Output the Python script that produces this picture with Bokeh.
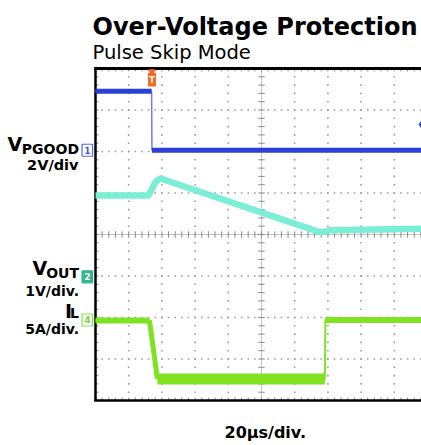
import numpy as np
from bokeh.plotting import figure
from bokeh.models import Range1d
from bokeh.core.properties import value
from bokeh.embed import file_html
from bokeh.resources import INLINE

# ---------------- data (time in µs, 20 µs/div; levels in screen divisions, centre = 0) ----
title_text = "Over-Voltage Protection"
subtitle_text = "Pulse Skip Mode"
x_label = "20µs/div."

pgood_t = [0.0, 33.8, 34.0, 200.0]
pgood_v = [3.45, 3.45, 2.03, 2.03]

vout_t = [0.0, 31.9, 36.5, 39.2, 135.5, 141.0, 200.0]
vout_v = [0.94, 0.94, 1.28, 1.35, 0.05, 0.10, 0.14]

il_t = [0.0, 32.5, 37.3, 138.2, 138.5, 200.0]
il_v = [-2.07, -2.07, -3.48, -3.48, -2.06, -2.06]

ch_names = ["1", "2", "4"]
ch_ground = [2.03, -1.02, -2.06]
trig_time = 34.0
trig_level = 2.65

# ---------------- layout helpers (canvas pixel -> data) ----------------
PX_X = 33.2 / 20.0   # px per µs
PX_Y = 41.5          # px per division
def X(px):
    return (px - 95.0) / PX_X
def Y(py):
    return (400.0 - py) / PX_Y - 4.0

W, H = 421, 445
p = figure(width=W, height=H, output_backend="svg", toolbar_location=None,
           x_range=Range1d(X(0), X(W)), y_range=Range1d(Y(H), Y(0)),
           x_axis_type=None, y_axis_type=None, min_border=0,
           outline_line_color=None, background_fill_color="white")
p.grid.visible = False

FONT = value("DejaVu Sans")

# ---------------- graticule ----------------
minor_x = np.arange(4, 200, 4)
dx, dy = [], []
for gy in [-3, -2, -1, 1, 2, 3]:
    dx += list(minor_x); dy += [gy] * len(minor_x)
minor_y = np.round(np.arange(-3.8, 3.81, 0.2), 3)
for gx in [20, 40, 60, 80, 120, 140, 160, 180]:
    dx += [gx] * len(minor_y); dy += list(minor_y)
p.scatter(dx, dy, marker="square", size=1.6, fill_color="#9c9c9c", line_color=None)

# centre cross
p.segment(x0=[100, 0], y0=[-4, 0], x1=[100, 200], y1=[4, 0], line_color="#c4c4c4", line_width=1)
tx = 3.2 / PX_X
ty = 3.2 / PX_Y
p.segment(x0=minor_x, y0=-ty, x1=minor_x, y1=ty, line_color="#8a8a8a", line_width=1)
p.segment(x0=100 - tx, y0=minor_y, x1=100 + tx, y1=minor_y, line_color="#8a8a8a", line_width=1)
# border ticks
p.segment(x0=0, y0=minor_y, x1=tx * 0.9, y1=minor_y, line_color="#8a8a8a", line_width=1)
p.segment(x0=minor_x, y0=4, x1=minor_x, y1=4 - ty * 0.9, line_color="#8a8a8a", line_width=1)
p.segment(x0=minor_x, y0=-4, x1=minor_x, y1=-4 + ty * 0.9, line_color="#8a8a8a", line_width=1)

# frame
p.line([0, 0], [-4, 4], line_color="black", line_width=2.5)
p.line([-0.8, 200], [-4, -4], line_color="black", line_width=2.5)
p.line([-0.8, 200], [4, 4], line_color="black", line_width=3.2)

# ---------------- traces ----------------
BLUE = "#2b3fd9"
CYAN = "#7beed4"
GREEN = "#80e322"

# Vout
p.line(vout_t, vout_v, line_color=CYAN, line_width=6.5, line_join="round")

# PGOOD: thin edge, thick levels
p.line(pgood_t, pgood_v, line_color="#6f7fee", line_width=1.5)
p.multi_line([pgood_t[0:2], pgood_t[2:4]], [pgood_v[0:2], pgood_v[2:4]],
             line_color=BLUE, line_width=5, line_cap="butt")

# IL
p.line(il_t, il_v, line_color=GREEN, line_width=2)
p.line(il_t[1:3], il_v[1:3], line_color=GREEN, line_width=5)
p.multi_line([il_t[0:2], il_t[4:6]], [il_v[0:2], il_v[4:6]],
             line_color=GREEN, line_width=6, line_cap="butt")
p.line(il_t[2:4], il_v[2:4], line_color=GREEN, line_width=11, line_cap="butt")

# ---------------- markers ----------------
mk_x = X(86.8)
p.rect(x=[mk_x] * 3, y=ch_ground, width=10.5, height=12, width_units="screen",
       height_units="screen", fill_color=["white", "#33b58e", "white"],
       line_color=["#5566ee", "#33b58e", "#86e24a"], line_width=1.2)
p.text(x=[mk_x] * 3, y=ch_ground, text=ch_names, text_align="center", text_baseline="middle",
       text_font=FONT, text_font_size="9px", text_font_style="bold",
       text_color=["#4455ea", "white", "#6fd83a"])

# trigger marker (top, orange)
p.rect(x=[trig_time], y=[Y(79)], width=7, height=13, width_units="screen",
       height_units="screen", fill_color="#f06a22", line_color="#f06a22")
p.scatter(x=[trig_time], y=[Y(71)], marker="triangle", size=6, angle=np.pi,
          fill_color="#f06a22", line_color="#f06a22")
p.text(x=[trig_time], y=[Y(80)], text=["T"], text_align="center", text_baseline="middle",
       text_font=FONT, text_font_size="8px", text_font_style="bold", text_color="white")

# trigger level marker (right edge)
p.scatter(x=[X(422)], y=[trig_level], marker="diamond", size=10, fill_color=BLUE, line_color=BLUE)

# ---------------- texts ----------------
def txt(x, y, s, size, align="left", bold=True):
    p.text(x=[X(x)], y=[Y(y)], text=[s], text_align=align, text_baseline="alphabetic",
           text_font=FONT, text_font_size=size,
           text_font_style="bold" if bold else "normal", text_color="black")

txt(92, 26, title_text, "24px")
txt(92, 51.5, subtitle_text, "19.5px", bold=False)

txt(7, 143.5, "V", "19px")
txt(78.5, 148.5, "PGOOD", "14px", align="right")
txt(78, 164, "2V/div", "14.5px", align="right")

txt(32, 267.5, "V", "19px")
txt(78.5, 272, "OUT", "14px", align="right")
txt(78.5, 290, "1V/div.", "14px", align="right")
txt(64.5, 310, "I", "19px")
txt(78.5, 312.5, "L", "14px", align="right")
txt(78.5, 328, "5A/div.", "14px", align="right")

txt(224, 432, x_label, "16px")

open("out.html", "w").write(file_html(p, INLINE))
